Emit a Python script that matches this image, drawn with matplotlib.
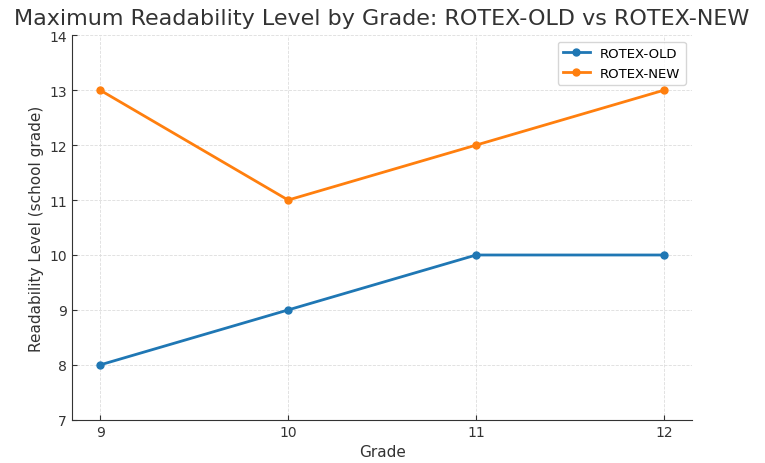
import matplotlib.pyplot as plt

grades = [9, 10, 11, 12]
rotex_old = [8, 9, 10, 10]
rotex_new = [13, 11, 12, 13]

fig = plt.figure(figsize=(7.65, 4.64), dpi=100)
ax = fig.add_axes([0.094, 0.093, 0.811, 0.829])

ax.plot(grades, rotex_old, marker="o", markersize=5, linewidth=2, color="#1f77b4", label="ROTEX-OLD")
ax.plot(grades, rotex_new, marker="o", markersize=5, linewidth=2, color="#ff7f0e", label="ROTEX-NEW")

ax.set_xticks(grades)
ax.set_ylim(7, 14)
ax.set_title("Maximum Readability Level by Grade: ROTEX-OLD vs ROTEX-NEW", fontsize=16, color="#333333", pad=8)
ax.set_xlabel("Grade", fontsize=11, color="#333333")
ax.set_ylabel("Readability Level (school grade)", fontsize=11, color="#333333")
ax.grid(True, linestyle="--", linewidth=0.6, color="#dddddd")
ax.tick_params(direction="in", colors="#333333", labelsize=10)
for side in ("top", "right"):
    ax.spines[side].set_visible(False)
for side in ("left", "bottom"):
    ax.spines[side].set_color("#333333")
ax.legend(loc="upper right", fontsize=9.5)

fig.savefig("out.png")
